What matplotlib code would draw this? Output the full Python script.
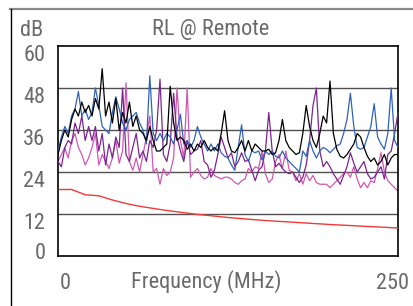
import numpy as np
import matplotlib
matplotlib.use('Agg')
import matplotlib.pyplot as plt
from matplotlib.lines import Line2D

plt.rcParams['font.family'] = ['Roboto Condensed', 'DejaVu Sans']

# frequency grid (MHz)
freq = np.linspace(0, 250, 101)

black = [29, 33, 36, 34, 39, 42, 40, 44, 41, 43, 40, 45, 42, 53.5, 40, 44, 38, 45, 36, 41, 38, 44, 37, 40, 36,
         35, 33, 37, 33, 30, 30, 31, 32, 48.5, 38, 33, 34, 33, 30.5, 32, 30, 32, 31, 33, 31, 30, 31, 30, 35, 41.5, 33,
         30, 29.5, 31, 33, 30, 33, 30, 32, 31, 30, 30, 30.5, 29, 29.5, 33, 39, 33, 31, 30, 29, 29.5, 35, 43, 37, 33,
         31, 35, 40, 38, 50, 35, 30.5, 28.5, 28, 29, 30.5, 32, 35, 34, 31, 28.5, 27, 28, 26, 27, 29, 26, 28, 29, 29]
blue = [30, 34, 37, 35, 40, 42, 47, 40, 42, 39, 41, 48, 43, 37, 36, 35, 41, 45.5, 42, 38, 36, 39, 40, 41, 38,
        36, 32, 51.5, 35, 33, 35, 33, 35, 34, 32, 36, 40.5, 32, 33, 31, 33, 37, 34, 32, 30, 32, 30, 32, 29.5, 28.5, 28,
        26, 24.5, 31, 37.5, 29, 27, 30, 29.5, 30, 27.5, 30, 29, 30, 28.5, 28, 30, 28, 27, 26, 25, 24, 30, 28.5, 33, 30,
        28, 30, 31, 30.5, 29.5, 30.5, 31.5, 32, 35, 39, 46.5, 37, 31, 30.5, 31, 34, 37, 43.5, 34, 32, 30.5, 35, 48, 33, 31]
purple = [27, 25.5, 31, 33, 32, 38, 35, 40, 33, 37, 33, 37, 30, 35, 26, 32, 28, 34, 31, 48, 29, 27, 31, 35, 28,
          30, 27, 33, 31, 36, 50.5, 29, 27, 32, 46.5, 34, 30, 27, 33, 29, 30, 30.5, 33, 27, 26, 22.5, 24.5, 29, 34, 31, 28,
          29.5, 25.5, 27, 29.5, 27, 27.5, 24.5, 21.5, 24.5, 25.5, 30, 41, 30, 25.5, 26.5, 25, 24, 23.5, 24, 22.5, 21, 22.5, 26, 33, 43,
          48, 30, 25.5, 27, 25.5, 23.5, 22, 20.5, 23, 25.5, 29.5, 26.5, 24, 25.5, 27, 23.5, 22, 22.5, 24, 25.5, 22, 29, 30, 35, 41]
pink = [27, 29, 31, 28, 33, 35, 31, 29, 26, 28, 31, 35, 26, 29, 27, 25, 28, 33, 26.5, 30, 49.5, 27, 24.5, 28, 24,
        29, 34, 40, 24, 25, 20.5, 25, 23, 24, 28, 48, 33, 28, 48, 22.5, 24, 25, 23, 22, 22.5, 25, 23, 22.5, 22, 22.5, 22.5,
        22, 21, 20.5, 21.5, 22, 25, 24, 25.5, 25, 30, 23.5, 21, 22, 27, 29, 25, 30, 24.5, 24, 21.5, 23.5, 20.5, 23.5, 21.5, 23,
        21, 20.5, 20.5, 20.5, 19.5, 20.5, 21.5, 22.5, 23.5, 24, 22.5, 25.5, 22, 19.5, 21, 19.5, 21.5, 21, 25, 29.5, 24, 21.5, 20.5, 19.5, 18.5]

# limit line
limit_freq = [1, 10, 20, 30, 40, 50, 60, 80, 100, 125, 150, 175, 200, 225, 250]
limit_db = [19, 19, 17.5, 17.2, 16, 15, 14.2, 13, 12, 11, 10.2, 9.6, 9, 8.5, 8]

y_ticks = [0, 12, 24, 36, 48, 60]

fig = plt.figure(figsize=(4.14, 3.06), dpi=100)
ax = fig.add_axes([58 / 414, 1 - 256 / 306, 340 / 414, 210 / 306])

for y in [12, 24, 36, 48]:
    ax.axhline(y, color='#505050', lw=1, zorder=1)

ax.plot(freq, pink, color='#d058b0', lw=0.9, zorder=2)
ax.plot(freq, purple, color='#7a2590', lw=0.9, zorder=3)
ax.plot(freq, blue, color='#2f62b8', lw=0.9, zorder=4)
ax.plot(freq, black, color='black', lw=0.9, zorder=5)
ax.plot(limit_freq, limit_db, color='#f03a3a', lw=1, zorder=6)

ax.set_xlim(0, 250)
ax.set_ylim(0, 60)
ax.set_xticks([])
ax.set_yticks([])
for s in ax.spines.values():
    s.set_linewidth(1.2)
    s.set_color('black')

gray = '#6a6a6a'
for y in y_ticks:
    if y == 0:
        ax.annotate(str(y), (0, y), xytext=(-9, -2.2), textcoords='offset points',
                    ha='right', va='baseline', fontsize=16, color=gray)
    else:
        ax.annotate(str(y), (0, y), xytext=(-9, 1), textcoords='offset points',
                    ha='right', va='top', fontsize=16, color=gray)

ax.annotate('0', (0, 0), xytext=(1, -12), textcoords='offset points',
            ha='left', va='top', fontsize=16, color=gray)
ax.annotate('250', (250, 0), xytext=(-4, -12), textcoords='offset points',
            ha='center', va='top', fontsize=16, color=gray)
fig.text(206 / 414, 1 - 282 / 306, 'Frequency (MHz)', ha='center', va='center',
         fontsize=16, color=gray)
fig.text(32 / 414, 1 - 30 / 306, 'dB', ha='center', va='center', fontsize=16, color=gray)
fig.text(211 / 414, 1 - 30 / 306, 'RL @ Remote', ha='center', va='center', fontsize=16, color=gray)

# outer frame
fig.add_artist(Line2D([10 / 414, 1], [1 - 8.5 / 306] * 2, color='#888888', lw=1.6))
fig.add_artist(Line2D([10.5 / 414] * 2, [0, 1 - 8.5 / 306], color='black', lw=1))

fig.savefig('out.png', dpi=100)
